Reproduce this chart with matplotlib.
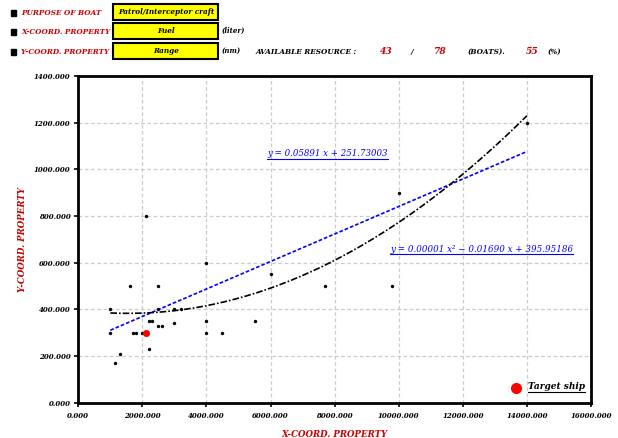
import numpy as np
import matplotlib
matplotlib.use('Agg')
import matplotlib.pyplot as plt
from matplotlib.patches import Rectangle
from matplotlib.lines import Line2D

# boats : fuel (liter) / range (nm)
fuel = [1000, 1000, 1150, 1300, 1600, 1700, 1800, 2000, 2100, 2200, 2300, 2200,
        2500, 2500, 2500, 2600, 3000, 3000, 3200, 4000, 4000, 4000, 4500, 5500,
        6000, 7700, 9800, 10000, 14000]
range_nm = [400, 300, 170, 210, 500, 300, 300, 300, 800, 350, 350, 230,
            500, 400, 330, 330, 400, 340, 400, 600, 350, 300, 300, 350,
            550, 500, 500, 900, 1200]

# target ship
target_fuel = [2100]
target_range = [300]

# trend lines coefficients
lin_coef = [0.05891, 251.73003]
quad_coef = [0.00000546, -0.01690, 395.95186]

x_ticks = [0, 2000, 4000, 6000, 8000, 10000, 12000, 14000, 16000]
y_ticks = [0, 200, 400, 600, 800, 1000, 1200, 1400]

purpose = 'Patrol/Interceptor craft'
x_prop = 'Fuel'
y_prop = 'Range'
available = 43
total = 78
ratio = 55

RED = '#cc0000'
W, H = 618, 438
FONT = 'DejaVu Serif'

fig = plt.figure(figsize=(W / 100, H / 100), dpi=100)


def fx(x):
    return x / W


def fy(y):
    return 1 - y / H


ax = fig.add_axes([fx(78.3), fy(402.7), fx(591) - fx(78.3), fy(76) - fy(402.7)])

ax.set_xlim(0, 16000)
ax.set_ylim(0, 1400)
ax.set_xticks(x_ticks)
ax.set_yticks(y_ticks)
ax.set_xticklabels(['%.3f' % v for v in x_ticks])
ax.set_yticklabels(['%.3f' % v for v in y_ticks])
for lab in ax.get_xticklabels() + ax.get_yticklabels():
    lab.set_fontfamily(FONT)
    lab.set_fontweight('bold')
    lab.set_fontstyle('italic')
    lab.set_fontsize(5.0)
ax.tick_params(axis='both', direction='out', length=3, width=1.2, color='black')
ax.tick_params(axis='x', pad=4)
ax.tick_params(axis='y', pad=2.5)

ax.grid(True, color='#cccccc', linestyle=(0, (3, 2)), linewidth=0.9)
ax.set_axisbelow(True)
for sp in ax.spines.values():
    sp.set_linewidth(2)
    sp.set_color('black')

# courbes de tendance
xs = np.linspace(min(fuel), max(fuel), 200)
ax.plot(xs, np.polyval(lin_coef, xs), color='#0000ff', linewidth=1.2,
        linestyle=(0, (2.2, 1.2)), zorder=3)
ax.plot(xs, np.polyval(quad_coef, xs), color='black', linewidth=1.2,
        linestyle=(0, (4, 1.2, 1, 1.2)), zorder=3)

ax.scatter(fuel, range_nm, s=6, color='black', zorder=4, linewidths=0)
ax.scatter(target_fuel, target_range, s=26, color='#ff0000', zorder=5, linewidths=0)

ax.set_xlabel('X-COORD. PROPERTY', color=RED, fontfamily=FONT, fontweight='bold',
              fontstyle='italic', fontsize=6.2, labelpad=7)
ax.set_ylabel('Y-COORD. PROPERTY', color=RED, fontfamily=FONT, fontweight='bold',
              fontstyle='italic', fontsize=6.2)
ax.yaxis.set_label_coords((27 - 78.3) / (591 - 78.3), 0.5)

# equations
eq1 = 'y = %.5f x + %.5f' % (lin_coef[0], lin_coef[1])
eq2 = 'y = %.5f x\u00b2 \u2212 %.5f x + %.5f' % (quad_coef[0], abs(quad_coef[1]), quad_coef[2])
t1 = fig.text(fx(267), fy(154), eq1, color='#0000ff', fontfamily=FONT, fontstyle='italic',
              fontsize=6.2, va='center', ha='left')
t2 = fig.text(fx(390), fy(249), eq2, color='#0000ff', fontfamily=FONT, fontstyle='italic',
              fontsize=6.3, va='center', ha='left')

# legend
fig.add_artist(Line2D([fx(515.7)], [fy(387.7)], marker='o', markersize=8,
                      color='#ff0000', markeredgewidth=0, linestyle='none'))
t3 = fig.text(fx(527.5), fy(386.5), 'Target ship', color='black', fontfamily=FONT,
              fontweight='bold', fontstyle='italic', fontsize=6.5, va='center', ha='left')

# header
rows = [(13, 'PURPOSE OF BOAT', purpose, 4, 20, 113.3, 218.3, None),
        (32, 'X-COORD. PROPERTY', x_prop, 23.3, 39.3, 113.3, 218.3, '(liter)'),
        (52, 'Y-COORD. PROPERTY', y_prop, 43.3, 59, 113.3, 218.3, '(nm)')]
for yc, name, val, y0, y1, x0, x1, unit in rows:
    fig.add_artist(Rectangle((fx(11), fy(yc + 2.7)), fx(5.3), fy(0) - fy(5.3),
                             color='black', transform=fig.transFigure))
    fig.text(fx(21), fy(yc), name, color=RED, fontfamily=FONT, fontweight='bold',
             fontstyle='italic', fontsize=5.2, va='center', ha='left')
    fig.add_artist(Rectangle((fx(x0), fy(y1)), fx(x1 - x0), fy(y0) - fy(y1),
                             facecolor='#ffff00', edgecolor='black', linewidth=1.5,
                             transform=fig.transFigure))
    fig.text(fx((x0 + x1) / 2), fy((y0 + y1) / 2), val, color='black', fontfamily=FONT,
             fontweight='bold', fontstyle='italic', fontsize=5.2, va='center', ha='center')
    if unit:
        fig.text(fx(222), fy(yc - 1), unit, color='black', fontfamily=FONT,
                 fontweight='bold', fontstyle='italic', fontsize=5.0, va='center', ha='left')

hdr = [(256, 'AVAILABLE RESOURCE :', 'black', 'left'),
       (386.7, str(available), RED, 'center'),
       (411.7, '/', 'black', 'center'),
       (439, str(total), RED, 'center'),
       (468, '(BOATS).', 'black', 'left'),
       (532.5, str(ratio), RED, 'center'),
       (548, '(%)', 'black', 'left')]
for x, s, c, ha in hdr:
    size = 6.6 if c == RED else 5.2
    fig.text(fx(x), fy(52), s, color=c, fontfamily=FONT, fontweight='bold',
             fontstyle='italic', fontsize=size, va='center', ha=ha)

# soulignement des textes
fig.canvas.draw()
renderer = fig.canvas.get_renderer()
for t, col in [(t1, '#0000ff'), (t2, '#0000ff'), (t3, 'black')]:
    bb = t.get_window_extent(renderer)
    yl = bb.y0 - 0.5
    fig.add_artist(Line2D([bb.x0 / W, bb.x1 / W], [yl / H, yl / H], color=col,
                          linewidth=0.8, transform=fig.transFigure))

fig.savefig('out.png', dpi=100)
